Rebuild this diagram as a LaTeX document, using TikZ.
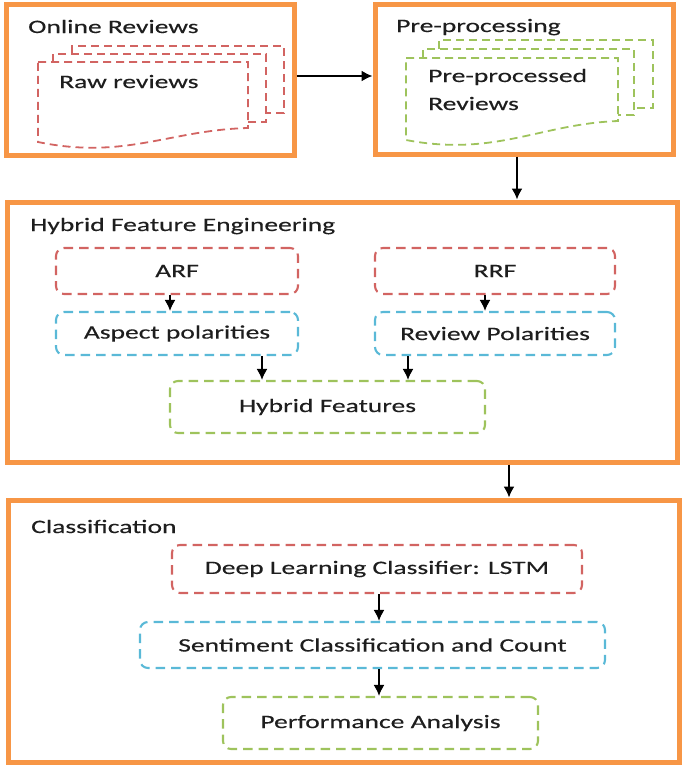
\documentclass[tikz,border=0pt]{standalone}
\usepackage{fontspec}
\setmainfont{Carlito}[FakeStretch=1.45,FakeBold=0.3]
\usetikzlibrary{arrows.meta}
\definecolor{borange}{RGB}{247,150,70}
\definecolor{dred}{RGB}{210,100,98}
\definecolor{dblue}{RGB}{90,185,215}
\definecolor{dgreen}{RGB}{158,195,92}
\definecolor{txt}{RGB}{30,30,30}
\tikzset{
  panel/.style={draw=borange, line width=5pt, minimum width=#1, inner sep=0pt},
  dbox/.style={draw=#1, line width=2.1pt, dash pattern=on 9.5pt off 6pt, rounded corners=8pt, inner sep=0pt, text=txt},
  doc/.style={draw=#1, line width=1.8pt, dash pattern=on 8pt off 5pt},
  lbl/.style={anchor=base west, text=txt, inner sep=0pt},
  arr/.style={draw=black, line width=1.7pt, -{Latex[length=11pt,width=11pt]}},
}
\begin{document}
\begin{tikzpicture}[x=1pt,y=-1pt,font=\fontsize{19}{22}\selectfont]
\useasboundingbox (0,0) rectangle (685,769);
% panels
\node[panel=288, minimum height=151] (online) at (150,79.5) {};
\node[panel=298, minimum height=150] (pre) at (524,79) {};
\node[panel=670, minimum height=260] (hyb) at (342,332) {};
\node[panel=671, minimum height=262] (cls) at (343.5,631) {};
% titles
\node[lbl] (t1) at (28,33) {Online Reviews};
\node[lbl] (t2) at (396,32) {Pre-processing};
\node[lbl] (t3) at (30,231) {Hybrid Feature Engineering};
\node[lbl] (t4) at (31,533) {Classification};
% raw reviews document stack
\draw[doc=dred] (72,53) -- (72,46) -- (284,46) -- (284,113) -- (266,113);
\draw[doc=dred] (53,62) -- (53,54) -- (266,54) -- (266,122) -- (248,122);
\draw[doc=dred] (38,62) -- (248,62) -- (248,128) .. controls (170,130) and (125,160) .. (38,142) -- cycle;
\node[lbl] (raw) at (59,88) {Raw reviews};
% pre-processed document stack
\draw[doc=dgreen] (439,49) -- (439,40) -- (653,40) -- (653,108) -- (634,108);
\draw[doc=dgreen] (423,58) -- (423,49) -- (634,49) -- (634,115) -- (618,115);
\draw[doc=dgreen] (406,58) -- (618,58) -- (618,121) .. controls (540,124) and (495,157) .. (406,140) -- cycle;
\node[lbl] (pp1) at (428,82) {Pre-processed};
\node[lbl] (pp2) at (428,110) {Reviews};
% hybrid feature boxes
\node[dbox=dred, minimum width=242, minimum height=46] (arf) at (177,271) {ARF};
\node[dbox=dred, minimum width=240, minimum height=46] (rrf) at (495,271) {RRF};
\node[dbox=dblue, minimum width=242, minimum height=43] (asp) at (177,333.5) {Aspect polarities};
\node[dbox=dblue, minimum width=240, minimum height=43] (rev) at (495,333.5) {Review Polarities};
\node[dbox=dgreen, minimum width=315, minimum height=52] (hf) at (327.5,407) {Hybrid Features};
% classification boxes
\node[dbox=dred, minimum width=410, minimum height=48] (dl) at (377,569) {Deep Learning Classifier: LSTM};
\node[dbox=dblue, minimum width=465, minimum height=46] (sc) at (372.5,645) {Sentiment Classification and Count};
\node[dbox=dgreen, minimum width=315, minimum height=52] (pa) at (380.5,723) {Performance Analysis};
% x positions
\coordinate (xa) at (170,0);
\coordinate (xb) at (485,0);
\coordinate (xc) at (262,0);
\coordinate (xd) at (408,0);
\coordinate (xe) at (379,0);
\coordinate (xf) at (517,0);
\coordinate (xg) at (509,0);
\coordinate (ya) at (0,76);
% connectors
\draw[arr] (online.east |- ya) -- (pre.west |- ya);
\draw[arr] (pre.south -| xf) -- (hyb.north -| xf);
\draw[arr] (hyb.south -| xg) -- (cls.north -| xg);
\draw[arr] (arf.south -| xa) -- (asp.north -| xa);
\draw[arr] (rrf.south -| xb) -- (rev.north -| xb);
\draw[arr] (asp.south -| xc) -- (hf.north -| xc);
\draw[arr] (rev.south -| xd) -- (hf.north -| xd);
\draw[arr] (dl.south -| xe) -- (sc.north -| xe);
\draw[arr] (sc.south -| xe) -- (pa.north -| xe);
\end{tikzpicture}
\end{document}
